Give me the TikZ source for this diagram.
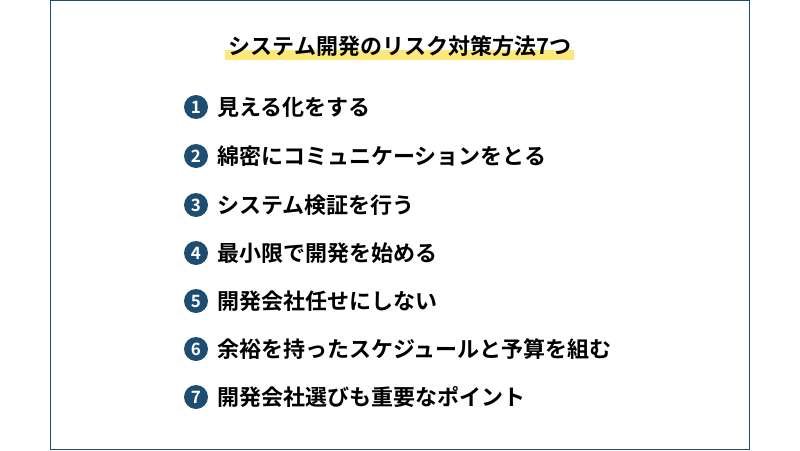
\documentclass[tikz,border=0pt]{standalone}
\usepackage{fontspec}
\newfontfamily\cjk{Noto Sans CJK JP Bold}
\usetikzlibrary{positioning}
\definecolor{navy}{HTML}{1E4D72}
\definecolor{hilite}{HTML}{FBEA7A}
\begin{document}
\begin{tikzpicture}[x=1pt,y=-1pt,
    num/.style={circle, fill=navy, text=white, minimum size=24pt, inner sep=0pt, font=\cjk\fontsize{17}{17}\selectfont},
    item/.style={right=9pt of #1, anchor=west, inner sep=0pt, font=\cjk\fontsize{22}{22}\selectfont},
    every node/.style={align=center}
  ]
  \useasboundingbox (0,0) rectangle (800,450);
  \draw[navy, line width=1pt] (50.5,0.5) rectangle (749.5,449.5);
  % Title
  \fill[hilite] (225,50) rectangle (574,60);
  \node[font=\cjk\fontsize{22}{22}\selectfont, inner sep=0pt] (title) at (400,46) {システム開発のリスク対策方法7つ};
  % Items
  \node[num] (n1) at (196,107) {1};
  \node[item=n1] (t1) {見える化をする};
  \node[num] (n2) at (196,156) {2};
  \node[item=n2] (t2) {綿密にコミュニケーションをとる};
  \node[num] (n3) at (196,205) {3};
  \node[item=n3] (t3) {システム検証を行う};
  \node[num] (n4) at (196,253) {4};
  \node[item=n4] (t4) {最小限で開発を始める};
  \node[num] (n5) at (196,301) {5};
  \node[item=n5] (t5) {開発会社任せにしない};
  \node[num] (n6) at (196,349) {6};
  \node[item=n6] (t6) {余裕を持ったスケジュールと予算を組む};
  \node[num] (n7) at (196,397) {7};
  \node[item=n7] (t7) {開発会社選びも重要なポイント};
\end{tikzpicture}
\end{document}
